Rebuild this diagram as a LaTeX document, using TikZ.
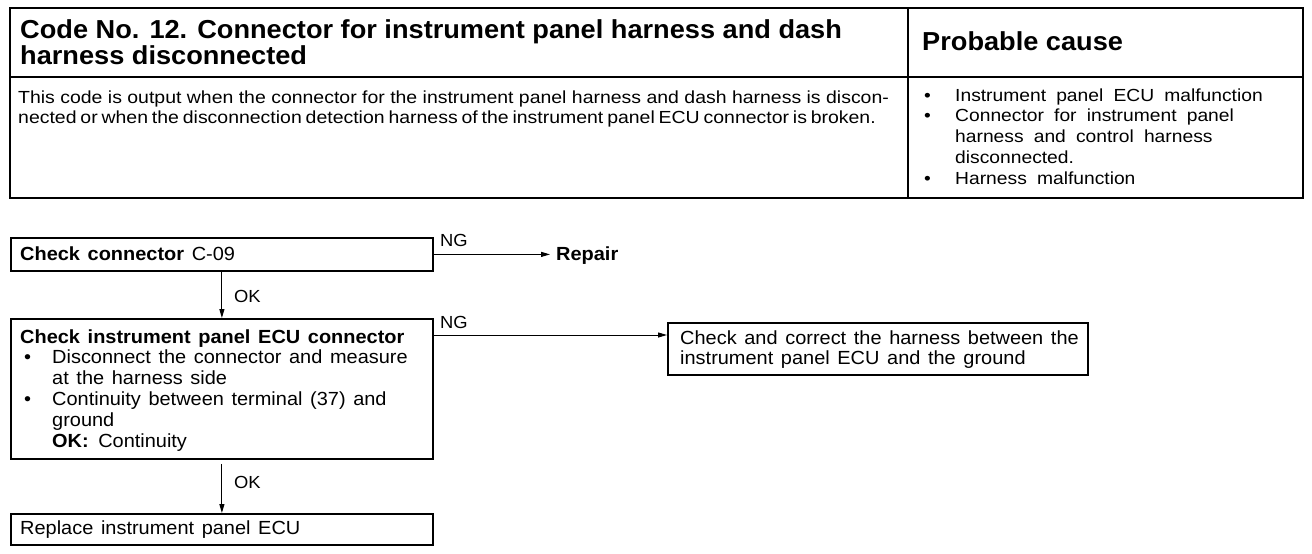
\documentclass[tikz,border=0pt]{standalone}
\usepackage{fontspec}
\setmainfont{Liberation Sans}
\newfontfamily\headfont[FakeStretch=1.045]{Liberation Sans}
\newfontfamily\descfont[FakeStretch=1.112]{Liberation Sans}
\newfontfamily\causefont[FakeStretch=1.1,WordSpace=1.9]{Liberation Sans}
\newfontfamily\flowfont[FakeStretch=1.05,WordSpace=1.38]{Liberation Sans}
\usetikzlibrary{arrows.meta,calc}
\begin{document}
\begin{tikzpicture}[x=1pt,y=-1pt,
  frame/.style={line width=1.8pt},
  box/.style={draw,line width=1.8pt,rectangle,inner sep=0pt,anchor=north west},
  head/.style={anchor=base west,inner sep=0pt,font=\headfont\fontsize{26}{28}\selectfont\bfseries},
  body/.style={anchor=base west,inner sep=0pt,font=\descfont\fontsize{17.5}{20}\selectfont},
  cause/.style={anchor=base west,inner sep=0pt,font=\causefont\fontsize{17.5}{20}\selectfont},
  txt/.style={anchor=base west,inner sep=0pt,font=\flowfont\fontsize{19}{21}\selectfont},
  lbl/.style={anchor=base west,inner sep=0pt,font=\flowfont\fontsize{17.5}{20}\selectfont},
  arr/.style={line width=1pt,-{Triangle[length=9pt,width=5pt]}}]
\useasboundingbox (0,0) rectangle (1312,554);
% table
\draw[frame] (10,8) rectangle (1303,198);
\draw[frame] (10,77) -- (1303,77);
\draw[frame] (908,8) -- (908,198);
\node[head] (h1) at (20,38) {Code No. 12. Connector for instrument panel harness and dash};
\node[head] (h2) at (20,64) {harness disconnected};
\node[head] (h3) at (922,50) {Probable cause};
\node[body] (d1) at (18,103) {This code is output when the connector for the instrument panel harness and dash harness is discon-};
\node[body] (d2) at (18,123) {\spaceskip=0.22em\relax nected or when the disconnection detection harness of the instrument panel ECU connector is broken.};
\node[cause] (pb1) at (924,101) {\textbullet};
\node[cause] (p1) at (955,101) {Instrument panel ECU malfunction};
\node[cause] (pb2) at (924,121) {\textbullet};
\node[cause] (p2) at (955,121) {Connector for instrument panel};
\node[cause] (p3) at (955,142) {harness and control harness};
\node[cause] (p4) at (955,163) {disconnected.};
\node[cause] (pb5) at (924,184) {\textbullet};
\node[cause] (p5) at (955,184) {Harness malfunction};
% flowchart boxes
\node[box,minimum width=422pt,minimum height=33pt] (b1) at (10,237) {};
\node[box,minimum width=422pt,minimum height=140pt] (b2) at (10,318) {};
\node[box,minimum width=420pt,minimum height=52pt] (b3) at (667,322) {};
\node[box,minimum width=422pt,minimum height=31pt] (b4) at (10,513) {};
% texts
\node[txt] (t1) at (20,260) {\textbf{Check connector} C-09};
\node[txt,font=\flowfont\fontsize{19}{21}\selectfont\bfseries] (rep) at (556,260) {Repair};
\node[txt] (t2) at (20,343) {\textbf{Check instrument panel ECU connector}};
\node[txt] (t2b1) at (24,363) {\textbullet};
\node[txt] (t2a) at (52,363) {Disconnect the connector and measure};
\node[txt] (t2b) at (52,384) {at the harness side};
\node[txt] (t2b2) at (24,405) {\textbullet};
\node[txt] (t2c) at (52,405) {Continuity between terminal (37) and};
\node[txt] (t2d) at (52,426) {ground};
\node[txt] (t2e) at (52,447) {\textbf{OK:}\enspace Continuity};
\node[txt] (t3a) at (680,344) {Check and correct the harness between the};
\node[txt] (t3b) at (680,364) {instrument panel ECU and the ground};
\node[txt] (t4) at (20,534) {Replace instrument panel ECU};
% labels
\node[lbl] (ng1) at (440,246) {NG};
\node[lbl] (ok1) at (234,302) {OK};
\node[lbl] (ng2) at (440,328) {NG};
\node[lbl] (ok2) at (234,488) {OK};
% connectors
\draw[arr] (b1.east) -- ([xshift=-6pt]b1.east -| rep.west);
\draw[arr] (b1.south) -- (b2.north);
\coordinate (n2) at ($(b2.north east)+(0,17)$);
\draw[arr] (n2) -- (n2 -| b3.west);
\draw[arr] ([yshift=-4pt]b2.south) -- (b4.north);
\end{tikzpicture}
\end{document}
